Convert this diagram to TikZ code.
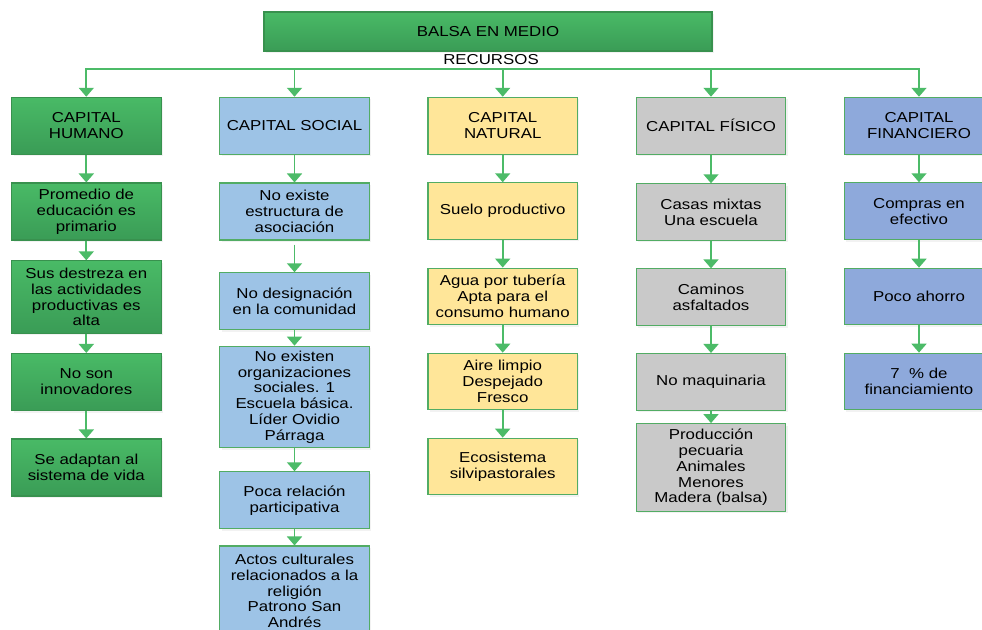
\documentclass[tikz,border=0pt]{standalone}
\usepackage{fontspec}
\setmainfont{Liberation Sans}[FakeStretch=1.17]
\usetikzlibrary{arrows.meta,shadows}
\definecolor{gtop}{RGB}{73,186,102}
\definecolor{gbot}{RGB}{58,156,86}
\definecolor{gline}{RGB}{56,145,78}
\definecolor{bline}{RGB}{82,172,100}
\definecolor{arrowg}{RGB}{76,187,104}
\definecolor{blueS}{RGB}{157,195,230}
\definecolor{yelN}{RGB}{255,230,153}
\definecolor{gryF}{RGB}{201,201,201}
\definecolor{blueF}{RGB}{142,169,219}
\begin{document}
\begin{tikzpicture}[x=1pt,y=-1pt,
  box/.style={rectangle, draw=bline, line width=1.1pt, minimum width=149.5pt, minimum height=57pt,
    align=center, inner sep=0pt, font=\fontsize{14.4}{15.8}\selectfont,
    drop shadow={opacity=0.1, shadow xshift=2pt, shadow yshift=-2pt}},
  hum/.style={box, top color=gtop, bottom color=gbot, draw=gline},
  soc/.style={box, fill=blueS},
  nat/.style={box, fill=yelN},
  fis/.style={box, fill=gryF},
  fin/.style={box, fill=blueF},
  arr/.style={draw=arrowg, line width=1.8pt, -{Triangle[width=15pt,length=9pt]}},
  lbl/.style={font=\fontsize{14.4}{15.8}\selectfont, inner sep=0pt}
]
\useasboundingbox (0,0) rectangle (982,629);
\fill[white] (0,0) rectangle (982,629);
\clip (0,0) rectangle (982,629);

% top
\node[hum, minimum width=448pt, minimum height=39pt] (top) at (488,31.5) {BALSA EN MEDIO};
\node[lbl] (rec) at (491,60) {RECURSOS};
\coordinate (hub) at (491,69);

% level 1
\node[hum] (c1) at (86.3,125.8) {CAPITAL\\HUMANO};
\node[soc] (c2) at (294.5,125.8) {CAPITAL SOCIAL};
\node[nat] (c3) at (502.7,125.8) {CAPITAL\\NATURAL};
\node[fis] (c4) at (711,125.8) {CAPITAL FÍSICO};
\node[fin] (c5) at (919,125.8) {CAPITAL\\FINANCIERO};

% column 1
\node[hum] (h1) at (86.3,211.5) {Promedio de\\educación es\\primario};
\node[hum, minimum height=72.3pt] (h2) at (86.3,297) {Sus destreza en\\las actividades\\productivas es\\alta};
\node[hum] (h3) at (86.3,382) {No son\\innovadores};
\node[hum] (h4) at (86.3,467.5) {Se adaptan al\\sistema de vida};

% column 2
\node[soc] (s1) at (294.5,211.5) {No existe\\estructura de\\asociación};
\node[soc] (s2) at (294.5,301.3) {No designación\\en la comunidad};
\node[soc, minimum height=101.6pt] (s3) at (294.5,397) {No existen\\organizaciones\\sociales. 1\\Escuela básica.\\Líder Ovidio\\Párraga};
\node[soc] (s4) at (294.5,500.3) {Poca relación\\participativa};
\node[soc, minimum height=90pt] (s5) at (294.5,591) {Actos culturales\\relacionados a la\\religión\\Patrono San\\Andrés};

% column 3
\node[nat, minimum height=56.4pt] (n1) at (502.7,211) {Suelo productivo};
\node[nat, minimum height=56.4pt] (n2) at (502.7,296.3) {Agua por tubería\\Apta para el\\consumo humano};
\node[nat, minimum height=56.6pt] (n3) at (502.7,381.5) {Aire limpio\\Despejado\\Fresco};
\node[nat, minimum height=56.6pt] (n4) at (502.7,466.5) {Ecosistema\\silvipastorales};

% column 4
\node[fis, minimum height=56.4pt] (f1) at (711,212) {Casas mixtas\\Una escuela};
\node[fis, minimum height=56.6pt] (f2) at (711,297.2) {Caminos\\asfaltados};
\node[fis, minimum height=56.6pt] (f3) at (711,381.8) {No maquinaria};
\node[fis, minimum height=87.7pt] (f4) at (711,467.5) {Producción\\pecuaria\\Animales\\Menores\\Madera (balsa)};

% column 5
\node[fin] (m1) at (919,211.3) {Compras en\\efectivo};
\node[fin, minimum height=56.6pt] (m2) at (919,296.5) {Poco ahorro};
\node[fin, minimum height=56.6pt] (m3) at (919,381.5) {7\ \ \% de\\financiamiento};

% connectors from hub
\foreach \c in {c1,c2,c3,c4,c5} {\draw[arr] (hub) -| (\c.north);}

% column connectors
\draw[arr] (c1.south) -- (h1.north);
\draw[arr] (h1.south) -- (h2.north);
\draw[arr] (h2.south) -- (h3.north);
\draw[arr] (h3.south) -- (h4.north);

\draw[arr] (c2.south) -- (s1.north);
\draw[arr] ([yshift=-4pt]s1.south) -- (s2.north);
\draw[arr] (s2.south) -- (s3.north);
\draw[arr] (s3.south) -- (s4.north);
\draw[arr] (s4.south) -- (s5.north);

\draw[arr] (c3.south) -- (n1.north);
\draw[arr] (n1.south) -- (n2.north);
\draw[arr] (n2.south) -- (n3.north);
\draw[arr] (n3.south) -- (n4.north);

\draw[arr] (c4.south) -- (f1.north);
\draw[arr] (f1.south) -- (f2.north);
\draw[arr] (f2.south) -- (f3.north);
\draw[arr] (f3.south) -- (f4.north);

\draw[arr] (c5.south) -- (m1.north);
\draw[arr] (m1.south) -- (m2.north);
\draw[arr] (m2.south) -- (m3.north);
\end{tikzpicture}
\end{document}
